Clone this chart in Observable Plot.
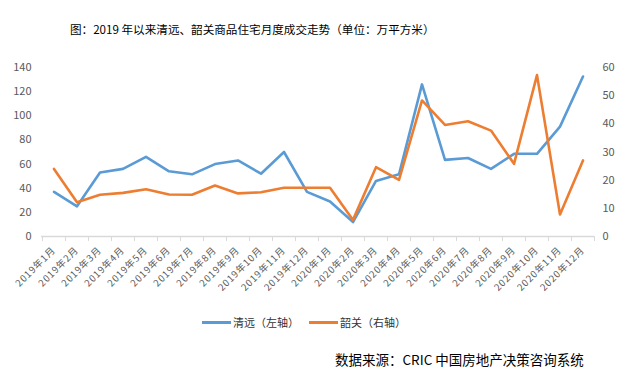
<!DOCTYPE html>
<html><head><meta charset="utf-8">
<script src="https://cdn.jsdelivr.net/npm/d3@7"></script>
<script src="https://cdn.jsdelivr.net/npm/@observablehq/plot@0.6"></script>
<style>
body{margin:0;background:#fff;font-family:"Noto Sans CJK SC",sans-serif;}
#wrap{position:relative;width:633px;height:372px;overflow:hidden;}
#wrap svg{position:absolute;left:0;top:0;}
#wrap svg g[aria-label="x-axis tick label"] text{letter-spacing:0.9px;}
.t{position:absolute;white-space:nowrap;color:#000;}
#title{left:70px;top:21px;font-size:11.6px;}
#legend{left:202px;top:314px;font-size:11px;color:#333;display:flex;align-items:center;}
.sw{display:inline-block;width:29px;height:3px;margin-right:2px;}
#source{left:335px;top:349px;font-size:13.5px;}
</style></head>
<body><div id="wrap">
<div id="title" class="t">图：2019 年以来清远、韶关商品住宅月度成交走势（单位：万平方米）</div>
<div id="legend" class="t"><span class="sw" style="background:#5b9bd5"></span>清远（左轴）<span class="sw" style="background:#ed7d31;margin-left:10px"></span>韶关（右轴）</div>
<div id="source" class="t">数据来源：CRIC 中国房地产决策咨询系统</div>
</div>
<script>
const months = [
 "2019年1月","2019年2月","2019年3月","2019年4月","2019年5月","2019年6月",
 "2019年7月","2019年8月","2019年9月","2019年10月","2019年11月","2019年12月",
 "2020年1月","2020年2月","2020年3月","2020年4月","2020年5月","2020年6月",
 "2020年7月","2020年8月","2020年9月","2020年10月","2020年11月","2020年12月"];
const qingyuan = [37,25,53,56,66,54,51.5,60,63,52,70,37,29,12,46,51.5,126,63.5,65,56,68.5,68.5,91,132.5];
const shaoguan = [24,12.2,14.8,15.5,16.8,14.9,14.8,18.1,15.3,15.7,17.3,17.3,17.3,5.9,24.6,20.1,48.3,39.6,40.9,37.6,25.8,57.3,7.8,27];
const leftTicks = [0,20,40,60,80,100,120,140];
const rightTicks = [0,10,20,30,40,50,60];

const k = 140/60;
const data = months.flatMap((m,i)=>[
  {m, s:"清远", v:qingyuan[i]},
  {m, s:"韶关", v:shaoguan[i]*k}
]);

const W=633,H=372, mL=41, mR=39, mT=67, mB=136;
const bw = (W-mL-mR)/months.length;
const tickColor="#d9d9d9", labColor="#595959";

const chart = Plot.plot({
  width:W, height:H, marginLeft:mL, marginRight:mR, marginTop:mT, marginBottom:mB,
  style:{fontFamily:"Noto Sans CJK SC, sans-serif", background:"transparent"},
  x:{type:"band", domain:months, padding:0, axis:null},
  y:{domain:[0,140], axis:null},
  color:{domain:["清远","韶关"], range:["#5b9bd5","#ed7d31"]},
  marks:[
    Plot.axisY({anchor:"left", ticks:leftTicks, tickSize:0, tickPadding:10, fontSize:11, color:labColor, label:null}),
    Plot.axisY({anchor:"right", ticks:rightTicks.map(v=>v*k), tickFormat:v=>Math.round(v/k), tickSize:0, tickPadding:8, fontSize:11, color:labColor, label:null}),
    Plot.ruleY([0], {stroke:tickColor, strokeWidth:1.3}),
    Plot.axisX({ticks:months, tickSize:5, dx:-bw/2, stroke:tickColor, tickFormat:()=>"" , label:null}),
    Plot.axisX({ticks:months.slice(-1), tickSize:5, dx:bw/2, stroke:tickColor, tickFormat:()=>"", label:null}),
    Plot.axisX({ticks:months, tickSize:0, tickPadding:12, tickRotate:-45, fontSize:9.5, fill:labColor, label:null}),
    Plot.lineY(data, {x:"m", y:"v", stroke:"s", strokeWidth:2.6, strokeLinejoin:"round"})
  ]
});
document.getElementById("wrap").prepend(chart);
</script>
</body></html>
